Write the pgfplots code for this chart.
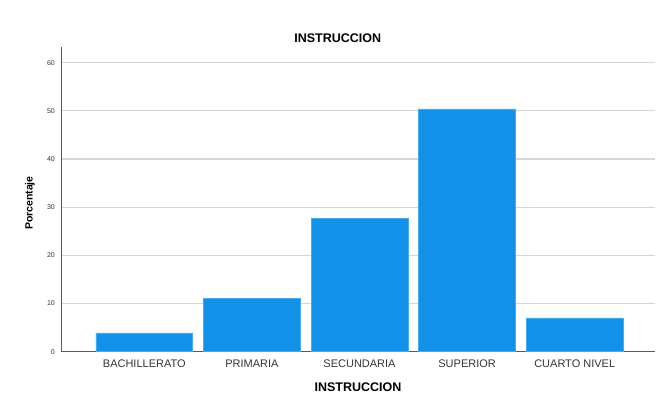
\documentclass[border=0pt]{standalone}
\usepackage{fontspec}
\setmainfont{Liberation Sans}
\usepackage{pgfplots}
\pgfplotsset{compat=1.18}
\definecolor{spssblue}{HTML}{1192E8}
\definecolor{spssedge}{HTML}{4AAAF0}
\definecolor{gridgray}{HTML}{D6D6D6}
\definecolor{axisgray}{HTML}{5A5A5A}
\definecolor{ticktext}{HTML}{333333}

\begin{document}
\begin{tikzpicture}[x=1pt,y=1pt]
\useasboundingbox (-61,-54.3) rectangle (595,351.7);
\begin{axis}[at={(0,0)},anchor=south west,scale only axis,
  width=594pt,height=304.4pt,
  xmin=-0.774,xmax=4.746,ymin=0,ymax=63.2,
  axis lines=left,axis line style={-,color=axisgray,line width=0.9pt},
  ymajorgrids,grid style={color=gridgray,line width=1.1pt},
  major tick length=0pt,
  xtick={0,1,2,3,4},
  xticklabels={BACHILLERATO,PRIMARIA,SECUNDARIA,SUPERIOR,CUARTO NIVEL},
  ytick={0,10,20,30,40,50,60},
  /pgf/number format/assume math mode=true,
  xticklabel style={anchor=center,yshift=-11.6pt,text=ticktext,
    font=\fontsize{11}{13}\selectfont},
  yticklabel style={anchor=east,inner sep=0pt,xshift=-6pt,text=ticktext,
    font=\fontsize{7}{8}\selectfont},
  title={INSTRUCCION},
  title style={at={(axis description cs:0.466,1.010)},anchor=center,
    font=\bfseries\fontsize{12.5}{14}\selectfont},
  xlabel={INSTRUCCION},
  xlabel style={at={(axis description cs:0.5,-0.1166)},anchor=center,
    font=\bfseries\fontsize{12.5}{14}\selectfont},
  ylabel={Porcentaje},
  ylabel style={at={(axis description cs:-0.0522,0.488)},anchor=center,
    font=\bfseries\fontsize{10.5}{12}\selectfont},
]
\addplot[ybar,bar width=0.9,fill=spssblue,draw=spssedge,line width=0.6pt]
  coordinates {(0,3.9) (1,11.0) (2,27.7) (3,50.4) (4,7.0)};
\end{axis}
\end{tikzpicture}
\end{document}
